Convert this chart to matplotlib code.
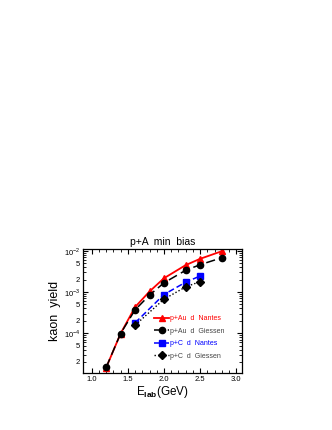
import matplotlib
matplotlib.use("Agg")
import matplotlib.pyplot as plt
from matplotlib.ticker import FixedLocator, FixedFormatter

plt.rcParams['font.family'] = ['Liberation Sans', 'DejaVu Sans']
plt.rcParams['mathtext.fontset'] = 'custom'
plt.rcParams['mathtext.rm'] = 'Liberation Sans'
plt.rcParams['mathtext.bf'] = 'Liberation Sans:bold'

# Data
au_nantes_x = [1.2, 1.4, 1.6, 1.8, 2.0, 2.3, 2.5, 2.8]
au_nantes_y = [1.45e-5, 9.8e-5, 4.3e-4, 1.03e-3, 2.16e-3, 4.5e-3, 6.4e-3, 9.8e-3]
au_giessen_x = [1.2, 1.4, 1.6, 1.8, 2.0, 2.3, 2.5, 2.8]
au_giessen_y = [1.47e-5, 9.8e-5, 3.67e-4, 8.4e-4, 1.67e-3, 3.37e-3, 4.6e-3, 6.8e-3]
c_nantes_x = [1.6, 2.0, 2.3, 2.5]
c_nantes_y = [1.78e-4, 8.7e-4, 1.73e-3, 2.45e-3]
c_giessen_x = [1.6, 2.0, 2.3, 2.5]
c_giessen_y = [1.56e-4, 6.7e-4, 1.33e-3, 1.79e-3]

labels = ["p+Au  d  Nantes", "p+Au  d  Giessen", "p+C  d  Nantes", "p+C  d  Giessen"]
xticks = [1.0, 1.5, 2.0, 2.5, 3.0]
xtick_labels = ["1.0", "1.5", "2.0", "2.5", "3.0"]

fig = plt.figure(figsize=(3.32, 4.30), dpi=100)
ax = fig.add_axes([0.25, 0.1326, 0.479, 0.288])

ax.plot(au_nantes_x, au_nantes_y, color='red', lw=1.3, marker='^', ms=4.5, label=labels[0])
ax.plot(au_giessen_x, au_giessen_y, color='black', lw=1.1, ls=(0, (6, 3)), marker='o', ms=4.5, label=labels[1])
ax.plot(c_nantes_x, c_nantes_y, color='blue', lw=1.1, ls=(0, (4, 2)), marker='s', ms=4.5, label=labels[2])
ax.plot(c_giessen_x, c_giessen_y, color='black', lw=1.0, ls=(0, (1, 1.5)), marker='D', ms=4, label=labels[3])

ax.set_yscale('log')
ax.set_xlim(0.88, 3.08)
ax.set_ylim(1.08e-5, 1.1e-2)

ax.xaxis.set_major_locator(FixedLocator(xticks))
ax.xaxis.set_major_formatter(FixedFormatter(xtick_labels))
ax.xaxis.set_minor_locator(FixedLocator([1.1 + 0.1 * i for i in range(20)]))

maj = [1e-4, 1e-3, 1e-2]
ax.yaxis.set_major_locator(FixedLocator(maj))
ax.yaxis.set_major_formatter(FixedFormatter([r'$10^{-4}$', r'$10^{-3}$', r'$10^{-2}$']))
minors = []
minor_labels = []
for d in [1e-5, 1e-4, 1e-3]:
    for m in range(2, 10):
        minors.append(m * d)
        minor_labels.append(str(m) if m in (2, 5) else "")
ax.yaxis.set_minor_locator(FixedLocator(minors))
ax.yaxis.set_minor_formatter(FixedFormatter(minor_labels))

ax.tick_params(which='both', direction='in', top=True, right=True, labelsize=5.5, pad=2)
ax.tick_params(which='major', length=3.5, width=0.8)
ax.tick_params(which='minor', length=2, width=0.6)
for s in ax.spines.values():
    s.set_linewidth(0.9)

ax.set_title("p+A  min  bias", fontsize=7.5, pad=3)
ax.set_ylabel("kaon  yield", fontsize=9, labelpad=2)
ax.set_xlabel(r"E$_{\mathbf{lab}}$(GeV)", fontsize=8.5, labelpad=1)

leg = ax.legend(loc='upper left', fontsize=5, frameon=False, handlelength=2.2,
                handletextpad=0.15, labelspacing=0.78, borderpad=0, borderaxespad=0,
                bbox_to_anchor=(0.447, 0.465))
text_colors = ['red', '#444444', 'blue', '#444444']
for t, c in zip(leg.get_texts(), text_colors):
    t.set_color(c)

fig.savefig("out.png", dpi=100)
